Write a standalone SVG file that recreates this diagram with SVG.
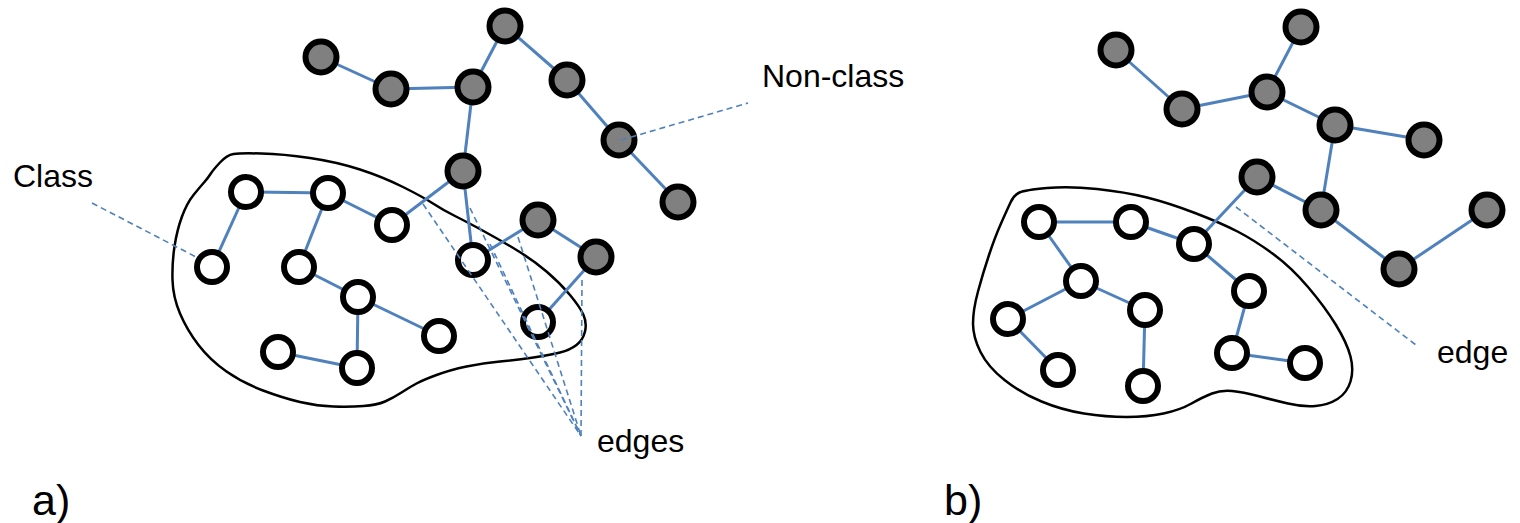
<svg xmlns="http://www.w3.org/2000/svg" width="1520" height="523" viewBox="0 0 1520 523">
<style>
.blob{fill:none;stroke:#000;stroke-width:2.5}
.e{stroke:#4F81BD;stroke-width:3;fill:none}
.d{stroke:#4F81BD;stroke-width:1.6;fill:none;stroke-dasharray:6 4}
.g{fill:#808080;stroke:#000;stroke-width:6}
.w{fill:#fff;stroke:#000;stroke-width:6}
.t{font-family:"Liberation Sans",Arial,sans-serif;font-size:32px;fill:#000}
.p{font-family:"Liberation Sans",Arial,sans-serif;font-size:43px;fill:#000}
</style>
<rect width="1520" height="523" fill="#fff"/>
<g id="blobs">
<path id="class-a" class="blob" d="M210.5,174 Q213,170 220,162.5 Q227,155 233.5,154 Q240,153 261.5,153.5 Q283,154 310,158 Q337,162 360,169.5 Q383,177 403,187 Q423,197 433,203.5 Q443,210 455,216 Q467,222 483.5,231 Q500,240 516.5,250 Q533,260 546.5,271.5 Q560,283 570,295 Q580,307 583.5,315 Q587,323 585,331.5 Q583,340 576.5,345 Q570,350 560,352.5 Q550,355 533.5,357.5 Q517,360 500,361.5 Q483,363 466.5,366.5 Q450,370 436.5,375 Q423,380 416.5,383.5 Q410,387 401.5,392.5 Q393,398 385,401.5 Q377,405 363.5,406 Q350,407 333.5,406.5 Q317,406 300,402 Q283,398 263,390.5 Q243,383 226.5,371.5 Q210,360 198.5,345 Q187,330 180,313.5 Q173,297 172.5,280 Q172,263 174.5,246.5 Q177,230 182,216.5 Q187,203 193.5,195 Q200,187 204,182.5 Q208,178 210.5,174 Z"/>
<path id="class-b" class="blob" d="M1010.5,202.5 Q1014,195 1019.5,192.5 Q1025,190 1047,188 Q1069,186 1097,189 Q1125,192 1147,197.5 Q1169,203 1195,213 Q1221,223 1237.5,231.5 Q1254,240 1272.5,253.5 Q1291,267 1308,287 Q1325,307 1336,325 Q1347,343 1350.5,356.5 Q1354,370 1350.5,381.5 Q1347,393 1337.5,399 Q1328,405 1315.5,406 Q1303,407 1288,403.5 Q1273,400 1258,396 Q1243,392 1232,391 Q1221,390 1212,393.5 Q1203,397 1191.5,403.5 Q1180,410 1163.5,413.5 Q1147,417 1126.5,417 Q1106,417 1084,413.5 Q1062,410 1041.5,401.5 Q1021,393 1004.5,380 Q988,367 980.5,352 Q973,337 973,323.5 Q973,310 978,291.5 Q983,273 989,255 Q995,237 1001,223.5 Q1007,210 1010.5,202.5 Z"/>
</g>
<g id="connectors">
<!-- panel a -->
<line class="e" x1="321" y1="57" x2="391" y2="89"/>
<line class="e" x1="391" y1="89" x2="473" y2="87"/>
<line class="e" x1="473" y1="87" x2="505" y2="26"/>
<line class="e" x1="505" y1="26" x2="567" y2="80"/>
<line class="e" x1="567" y1="80" x2="619" y2="140"/>
<line class="e" x1="619" y1="140" x2="678" y2="202"/>
<line class="e" x1="473" y1="87" x2="463" y2="171"/>
<line class="e" x1="463" y1="171" x2="392" y2="225"/>
<line class="e" x1="463" y1="171" x2="473" y2="260"/>
<line class="e" x1="473" y1="260" x2="538" y2="220"/>
<line class="e" x1="538" y1="220" x2="596" y2="257"/>
<line class="e" x1="596" y1="257" x2="538" y2="322"/>
<line class="e" x1="246" y1="192" x2="328" y2="193"/>
<line class="e" x1="246" y1="192" x2="212" y2="267"/>
<line class="e" x1="328" y1="193" x2="392" y2="225"/>
<line class="e" x1="328" y1="193" x2="299" y2="267"/>
<line class="e" x1="299" y1="267" x2="358" y2="297"/>
<line class="e" x1="358" y1="297" x2="439" y2="336"/>
<line class="e" x1="358" y1="297" x2="357" y2="368"/>
<line class="e" x1="278" y1="352" x2="357" y2="368"/>
<!-- panel b -->
<line class="e" x1="1116" y1="50" x2="1182" y2="109"/>
<line class="e" x1="1182" y1="109" x2="1267" y2="92"/>
<line class="e" x1="1267" y1="92" x2="1301" y2="27"/>
<line class="e" x1="1267" y1="92" x2="1335" y2="125"/>
<line class="e" x1="1335" y1="125" x2="1424" y2="140"/>
<line class="e" x1="1335" y1="125" x2="1321" y2="210"/>
<line class="e" x1="1257" y1="177" x2="1321" y2="210"/>
<line class="e" x1="1321" y1="210" x2="1399" y2="269"/>
<line class="e" x1="1399" y1="269" x2="1487" y2="210"/>
<line class="e" x1="1257" y1="177" x2="1194" y2="244"/>
<line class="e" x1="1039" y1="222" x2="1131" y2="222"/>
<line class="e" x1="1131" y1="222" x2="1194" y2="244"/>
<line class="e" x1="1039" y1="222" x2="1081" y2="281"/>
<line class="e" x1="1081" y1="281" x2="1008" y2="319"/>
<line class="e" x1="1081" y1="281" x2="1145" y2="310"/>
<line class="e" x1="1008" y1="319" x2="1058" y2="370"/>
<line class="e" x1="1145" y1="310" x2="1143" y2="386"/>
<line class="e" x1="1194" y1="244" x2="1249" y2="291"/>
<line class="e" x1="1249" y1="291" x2="1232" y2="353"/>
<line class="e" x1="1232" y1="353" x2="1305" y2="363"/>
</g>
<g id="nodes">
<g id="a-g1"><circle class="g" cx="321" cy="57" r="15.5"/></g>
<g id="a-g2"><circle class="g" cx="391" cy="89" r="15.5"/></g>
<g id="a-g3"><circle class="g" cx="473" cy="87" r="15.5"/></g>
<g id="a-g4"><circle class="g" cx="505" cy="26" r="15.5"/></g>
<g id="a-g5"><circle class="g" cx="567" cy="80" r="15.5"/></g>
<g id="a-g6"><circle class="g" cx="619" cy="140" r="15.5"/></g>
<g id="a-g7"><circle class="g" cx="678" cy="202" r="15.5"/></g>
<g id="a-g8"><circle class="g" cx="463" cy="171" r="15.5"/></g>
<g id="a-g9"><circle class="g" cx="538" cy="220" r="15.5"/></g>
<g id="a-g10"><circle class="g" cx="596" cy="257" r="15.5"/></g>
<g id="a-w1"><circle class="w" cx="246" cy="192" r="15"/></g>
<g id="a-w2"><circle class="w" cx="328" cy="193" r="15"/></g>
<g id="a-w3"><circle class="w" cx="392" cy="225" r="15"/></g>
<g id="a-w4"><circle class="w" cx="212" cy="267" r="15"/></g>
<g id="a-w5"><circle class="w" cx="299" cy="267" r="15"/></g>
<g id="a-w6"><circle class="w" cx="358" cy="297" r="15"/></g>
<g id="a-w7"><circle class="w" cx="439" cy="336" r="15"/></g>
<g id="a-w8"><circle class="w" cx="278" cy="352" r="15"/></g>
<g id="a-w9"><circle class="w" cx="357" cy="368" r="15"/></g>
<g id="a-w10"><circle class="w" cx="473" cy="260" r="15"/></g>
<g id="a-w11"><circle class="w" cx="538" cy="322" r="15"/></g>
<g id="b-g1"><circle class="g" cx="1116" cy="50" r="15.5"/></g>
<g id="b-g2"><circle class="g" cx="1182" cy="109" r="15.5"/></g>
<g id="b-g3"><circle class="g" cx="1267" cy="92" r="15.5"/></g>
<g id="b-g4"><circle class="g" cx="1301" cy="27" r="15.5"/></g>
<g id="b-g5"><circle class="g" cx="1335" cy="125" r="15.5"/></g>
<g id="b-g6"><circle class="g" cx="1424" cy="140" r="15.5"/></g>
<g id="b-g7"><circle class="g" cx="1257" cy="177" r="15.5"/></g>
<g id="b-g8"><circle class="g" cx="1321" cy="210" r="15.5"/></g>
<g id="b-g9"><circle class="g" cx="1487" cy="210" r="15.5"/></g>
<g id="b-g10"><circle class="g" cx="1399" cy="269" r="15.5"/></g>
<g id="b-w1"><circle class="w" cx="1039" cy="222" r="15"/></g>
<g id="b-w2"><circle class="w" cx="1131" cy="222" r="15"/></g>
<g id="b-w3"><circle class="w" cx="1194" cy="244" r="15"/></g>
<g id="b-w4"><circle class="w" cx="1081" cy="281" r="15"/></g>
<g id="b-w5"><circle class="w" cx="1249" cy="291" r="15"/></g>
<g id="b-w6"><circle class="w" cx="1008" cy="319" r="15"/></g>
<g id="b-w7"><circle class="w" cx="1145" cy="310" r="15"/></g>
<g id="b-w8"><circle class="w" cx="1232" cy="353" r="15"/></g>
<g id="b-w9"><circle class="w" cx="1305" cy="363" r="15"/></g>
<g id="b-w10"><circle class="w" cx="1058" cy="370" r="15"/></g>
<g id="b-w11"><circle class="w" cx="1143" cy="386" r="15"/></g>
</g>
<g id="leaders">
<line class="d" x1="92" y1="203" x2="198" y2="258"/>
<line class="d" x1="621" y1="140" x2="748" y2="103"/>
<line class="d" x1="423" y1="204" x2="581" y2="436"/>
<line class="d" x1="470" y1="208" x2="581" y2="436"/>
<line class="d" x1="490" y1="244" x2="581" y2="436"/>
<line class="d" x1="518" y1="237" x2="581" y2="436"/>
<line class="d" x1="582" y1="280" x2="581" y2="436"/>
<line class="d" x1="1236" y1="207" x2="1416" y2="345"/>
</g>
<g id="labels">
<text class="t" x="13" y="187">Class</text>
<text class="t" x="762" y="87">Non-class</text>
<text class="t" x="597" y="452">edges</text>
<text class="t" x="1437" y="363">edge</text>
<text class="p" x="32" y="515">a)</text>
<text class="p" x="944" y="515">b)</text>
</g>
</svg>
